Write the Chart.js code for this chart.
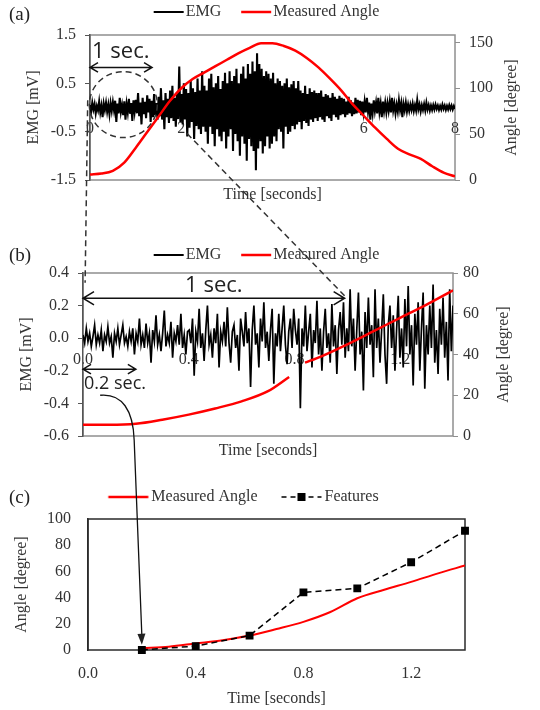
<!DOCTYPE html>
<html>
<head>
<meta charset="utf-8">
<script src="https://cdn.jsdelivr.net/npm/chart.js@4.4.1/dist/chart.umd.min.js"></script>
<style>
  body { margin: 0; background: #fff; }
  #page { position: relative; width: 540px; height: 710px; }
  #page canvas { position: absolute; left: 0; }
</style>
</head>
<body>
<div id="page">
  <canvas id="chartA" width="540" height="204" style="top:0px"></canvas>
  <canvas id="chartB" width="540" height="216" style="top:244px"></canvas>
  <canvas id="chartC" width="540" height="225" style="top:485px"></canvas>
  <canvas id="overlay" width="540" height="710" style="top:0px;pointer-events:none"></canvas>
</div>
<script>
const SERIF = '"Liberation Serif", "Times New Roman", serif';
const SANS = '"Open Sans", "Noto Sans", sans-serif';

// ---- (a) whole movement, 0-8 s ----
const emgADuration = 8;
const emgA = [
  .05,-.08,.1,-.04,.07,-.12,.03,-.06,.12,-.1,.04,-.2,.08,-.05,.1,-.09,.06,-.14,.09,-.07,
  .11,-.06,.14,-.3,.08,-.12,.2,-.09,.05,-.16,.13,-.25,.07,-.1,.18,-.13,.09,-.28,.15,-.08,
  .16,-.12,.3,-.18,.1,-.35,.2,-.14,.12,-.22,.25,-.1,.18,-.3,.14,-.2,.28,-.16,.09,-.25,
  .22,-.18,.4,-.25,.15,-.45,.3,-.2,.18,-.32,.35,-.22,.45,-.28,.2,-.4,.3,-.24,.85,-.3,
  .28,-.35,.5,-.25,.38,-.6,.3,-.42,.55,-.3,.4,-.65,.32,-.38,.6,-.45,.35,-.55,.75,-.4,
  .45,-.5,.35,-.75,.6,-.4,.7,-.55,.42,-.8,.5,-.45,.65,-.6,.38,-.7,.55,-.5,.72,-.85,
  .5,-.6,.75,-.45,.55,-.9,.65,-.55,.8,-.7,.5,-1.0,.7,-.6,.85,-.75,.6,-1.1,.9,-.65,
  .7,-.8,.95,-.9,.75,-1.3,1.12,-.85,.9,-.7,.8,-.95,.65,-.8,.75,-.6,.7,-.85,.6,-.75,
  .72,-.6,.5,-.7,.6,-.45,.55,-.5,.45,-.85,.5,-.4,.6,-.55,.42,-.5,.48,-.38,.55,-.45,
  .4,-.35,.55,-.3,.35,-.45,.3,-.28,.45,-.32,.28,-.38,.4,-.25,.32,-.3,.35,-.22,.3,-.28,
  .3,-.2,.35,-.25,.22,-.3,.28,-.18,.25,-.22,.2,-.28,.3,-.15,.22,-.2,.18,-.25,.24,-.16,
  .2,-.14,.18,-.2,.12,-.15,.22,-.12,.15,-.18,.1,-.14,.2,-.12,.16,-.1,.14,-.16,.12,-.1,
  .12,-.1,.2,-.08,.1,-.25,.08,-.12,.15,-.07,.1,-.12,.2,-.09,.08,-.2,.12,-.08,.1,-.1,
  .09,-.07,.12,-.1,.2,-.06,.08,-.12,.06,-.08,.15,-.05,.09,-.2,.07,-.06,.1,-.08,.06,-.07,
  .06,-.05,.08,-.07,.05,-.06,.15,-.04,.06,-.08,.05,-.05,.07,-.06,.1,-.04,.05,-.06,.04,-.05,
  .05,-.04,.06,-.03,.04,-.05,.03,-.04,.06,-.03,.04,-.05,.03,-.04,.05,-.03,.04,-.04,.03,-.03
];
const angleATime = [0,0.25,0.5,0.75,1,1.25,1.5,1.75,2,2.25,2.5,2.75,3,3.25,3.5,3.75,4,
                    4.25,4.5,4.75,5,5.25,5.5,5.75,6,6.25,6.5,6.75,7,7.25,7.5,7.75,8];
const angleA = [6,7,10,19,35,52,69,86,100,110,117,124,131,138,144,149,149,
                146,141,133,123,111,98,83,70,57,45,34,28,23,15,8,4];
const timeTicksA = [0,2,4,6,8];
const emgTicksA = [-1.5,-0.5,0.5,1.5];
const angleTicksA = [0,50,100,150];

// ---- (b) first 1.4 s ----
const emgBDuration = 1.4;
const emgB = [
  .02,-.03,.06,-.02,.03,-.05,.01,.08,-.04,.02,-.03,.05,-.08,.02,-.02,.07,-.03,.01,-.12,.03,-.02,.06,-.04,.02,.08,-.03,.01,-.05,.04,-.02,.06,-.1,
  .03,-.02,.12,-.04,.02,-.06,.09,-.03,.03,-.15,.05,-.02,.14,-.04,.02,-.08,.03,.17,-.05,.02,-.03,.1,-.12,.03,-.02,.08,-.04,.15,-.06,.02,-.1,.04,
  .05,-.03,.12,-.23,.04,-.02,.18,-.06,.03,-.14,.05,.2,-.04,.02,-.12,.06,-.03,.15,-.18,.04,-.02,.1,-.05,.19,-.03,-.15,.04,.08,-.06,.02,-.2,.12,
  .04,-.05,.16,-.03,.06,-.3,.05,.2,-.04,.03,-.18,.12,-.02,.22,-.06,.04,-.14,.05,.18,-.28,.03,-.05,.15,-.08,.06,.2,-.04,-.16,.04,.12,-.06,.18,
  .05,-.04,.12,-.43,.06,-.05,.2,-.08,.04,.15,-.18,.05,-.03,.23,-.1,.06,-.2,.04,.18,-.06,.03,-.15,.21,-.05,.08,-.22,.05,.16,-.04,.22,-.12,.06,
  -.08,.3,-.05,.12,-.2,.05,.28,-.1,.04,-.32,.16,-.06,.25,-.04,.08,-.24,.3,-.06,.12,-.15,.05,.27,-.1,-.28,.08,.2,-.06,.14,-.2,.05,.26,-.12,
  .06,-.18,.24,-.05,.32,-.1,.08,-.29,.15,-.04,.22,-.2,.06,.28,-.31,.08,-.1,.2,-.06,.33,-.15,.05,-.22,.18,-.04,.25,-.12,.1,-.26,.3,-.08,.2
];
const angleBTime = [0,0.1,0.2,0.3,0.4,0.5,0.6,0.7,0.78,0.8,0.84,0.9,1.0,1.1,1.2,1.3,1.4];
const angleB = [5.5,5.5,6,8,10.5,13.5,17,22,29,null,36,39,45,51.5,58,64.5,71.5];
const timeTicksB = [0,0.4,0.8,1.2];
const emgTicksB = [-0.6,-0.4,-0.2,0,0.2,0.4];
const angleTicksB = [0,20,40,60,80];

// ---- (c) features against the measured angle ----
const featureTime = [0.2,0.4,0.6,0.8,1.0,1.2,1.4];
const featureAngle = [0,3,11,44,47,67,91];
const angleCTime = [0.2,0.3,0.4,0.5,0.6,0.7,0.8,0.9,1.0,1.1,1.2,1.3,1.4];
const angleC = [1.5,2.5,5,7.5,11,16,21.5,29,39.5,46,52,58.5,64.5];
const timeTicksC = [0,0.4,0.8,1.2];
const angleTicksC = [0,20,40,60,80,100];

Chart.defaults.font.family = SERIF;
Chart.defaults.font.size = 16;
Chart.defaults.color = '#333';

const series = (xs, ys) => xs.map((t, i) => ({ x: t, y: ys[i] }));
const sampled = (vals, dur) => vals.map((v, i) => ({ x: i * dur / (vals.length - 1), y: v }));
const setTicks = vals => s => { s.ticks = vals.map(v => ({ value: v })); };

// legend swatch: a short line that stops just before the label text
function makeSwatch(boxW, lineLen, gap, s) {
  const a = boxW + 8 - gap - lineLen, b = boxW + 8 - gap;
  const half = Math.ceil(Math.max(boxW / 2 - a, b - boxW / 2)) + 2;
  const c = document.createElement('canvas');
  c.width = half * 2; c.height = 14;
  const g = c.getContext('2d');
  const x0 = a - (boxW / 2 - half), x1 = b - (boxW / 2 - half);
  g.strokeStyle = s.color; g.lineWidth = s.width;
  g.setLineDash(s.dash || []);
  g.beginPath(); g.moveTo(x0, 7); g.lineTo(x1, 7); g.stroke();
  if (s.marker) { g.fillStyle = s.color; g.fillRect((x0 + x1) / 2 - 4, 3, 8, 8); }
  return c;
}

function legendOpts(boxW, swatches) {
  return {
    position: 'top',
    labels: {
      usePointStyle: true, pointStyleWidth: boxW, padding: 2, color: '#333',
      font: { size: 16 },
      generateLabels: chart => chart.data.datasets.map((ds, i) => ({
        text: ds.label, pointStyle: swatches[i], datasetIndex: i,
        lineWidth: 0, hidden: false, fontColor: '#333'
      }))
    }
  };
}

// empty title used as a gap between legend and plot
const spacer = h => ({ display: h > 0, text: '', weight: 500, padding: 0, font: { size: h, lineHeight: 1 } });

const framePlugin = {
  id: 'frame',
  beforeDraw(chart, args, opts) {
    const { left, top, right, bottom } = chart.chartArea;
    const ctx = chart.ctx;
    ctx.save();
    ctx.strokeStyle = opts.color; ctx.lineWidth = opts.width;
    ctx.strokeRect(left, top, right - left, bottom - top);
    ctx.restore();
  }
};

// right axis title, rotated to read bottom-to-top like the left one
const rightTitlePlugin = {
  id: 'rightTitle',
  afterDraw(chart, args, opts) {
    if (!opts.text) return;
    const s = chart.scales[opts.scale];
    const ctx = chart.ctx;
    ctx.save();
    ctx.font = '16px ' + SERIF; ctx.fillStyle = '#333';
    ctx.textAlign = 'center'; ctx.textBaseline = 'middle';
    ctx.translate(opts.x, (s.top + s.bottom) / 2);
    ctx.rotate(-Math.PI / 2);
    ctx.fillText(opts.text, 0, 0);
    ctx.restore();
  }
};

const baseOpts = { responsive: false, animation: false, devicePixelRatio: 1, events: [] };

const swAB = [
  makeSwatch(42, 30, 2, { color: '#000', width: 2 }),
  makeSwatch(42, 30, 2, { color: '#ff0000', width: 2.5 })
];
const swC = [
  makeSwatch(57, 40, 3, { color: '#ff0000', width: 2.5 }),
  makeSwatch(57, 40, 3, { color: '#000', width: 1.5, dash: [5, 4], marker: true })
];

const chartA = new Chart(document.getElementById('chartA'), {
  type: 'line',
  data: { datasets: [
    { label: 'EMG', data: sampled(emgA, emgADuration), borderColor: '#000', borderWidth: 2.1,
      pointRadius: 0, xAxisID: 'x', yAxisID: 'y', order: 2 },
    { label: 'Measured Angle', data: series(angleATime, angleA), borderColor: '#ff0000', borderWidth: 2.5,
      pointRadius: 0, cubicInterpolationMode: 'monotone', xAxisID: 'x', yAxisID: 'y1', order: 1 }
  ]},
  options: { ...baseOpts,
    layout: { padding: { top: 2, right: 25 } },
    plugins: {
      legend: legendOpts(42, swAB),
      title: spacer(5),
      tooltip: { enabled: false },
      frame: { color: '#8f8f8f', width: 1.5 },
      rightTitle: { text: 'Angle [degree]', scale: 'y1', x: 512 }
    },
    scales: {
      x: { type: 'linear', min: 0, max: 8, position: { y: 0 },
           afterBuildTicks: setTicks(timeTicksA),
           grid: { display: false, drawTicks: false }, border: { display: false },
           ticks: { padding: 12, callback: v => String(v) } },
      xTitle: { type: 'linear', axis: 'x', min: 0, max: 8, position: 'bottom',
           ticks: { display: false }, grid: { display: false }, border: { display: false },
           title: { display: true, text: 'Time [seconds]', padding: 0 },
           afterFit: s => { s.height = 24; } },
      y: { type: 'linear', min: -1.5, max: 1.5, position: 'left',
           afterBuildTicks: setTicks(emgTicksA), afterFit: s => { s.width = 90; },
           grid: { drawOnChartArea: false, tickLength: 5, color: '#555' },
           border: { color: '#555', width: 1.5 },
           ticks: { padding: 9, callback: v => v.toFixed(1) },
           title: { display: true, text: 'EMG [mV]', padding: { top: 24, bottom: 0 } } },
      y1: { type: 'linear', min: 0, max: 158, position: 'right',
           afterBuildTicks: setTicks(angleTicksA), afterFit: s => { s.width = 60; },
           grid: { drawOnChartArea: false, tickLength: 5, color: '#8f8f8f' },
           border: { display: false },
           ticks: { padding: 9 } }
    }
  },
  plugins: [framePlugin, rightTitlePlugin]
});

const chartB = new Chart(document.getElementById('chartB'), {
  type: 'line',
  data: { datasets: [
    { label: 'EMG', data: sampled(emgB, emgBDuration), borderColor: '#000', borderWidth: 1.7,
      pointRadius: 0, xAxisID: 'x', yAxisID: 'y', order: 2 },
    { label: 'Measured Angle', data: series(angleBTime, angleB), borderColor: '#ff0000', borderWidth: 2.5,
      pointRadius: 0, cubicInterpolationMode: 'monotone', xAxisID: 'x', yAxisID: 'y1', order: 1 }
  ]},
  options: { ...baseOpts,
    layout: { padding: { top: 1, right: 25 } },
    plugins: {
      legend: legendOpts(42, swAB),
      title: spacer(0),
      tooltip: { enabled: false },
      frame: { color: '#8f8f8f', width: 1.5 },
      rightTitle: { text: 'Angle [degree]', scale: 'y1', x: 504 }
    },
    scales: {
      x: { type: 'linear', min: 0, max: 1.4, position: { y: 0 }, z: 1,
           afterBuildTicks: setTicks(timeTicksB),
           grid: { display: false, drawTicks: false }, border: { display: false },
           ticks: { padding: 12, callback: v => v.toFixed(1),
                    showLabelBackdrop: true, backdropColor: '#fff', backdropPadding: 2 } },
      xTitle: { type: 'linear', axis: 'x', min: 0, max: 1.4, position: 'bottom',
           ticks: { display: false }, grid: { display: false }, border: { display: false },
           title: { display: true, text: 'Time [seconds]', padding: 0 },
           afterFit: s => { s.height = 24; } },
      y: { type: 'linear', min: -0.6, max: 0.4, position: 'left',
           afterBuildTicks: setTicks(emgTicksB), afterFit: s => { s.width = 83; },
           grid: { drawOnChartArea: false, tickLength: 5, color: '#555' },
           border: { color: '#555', width: 1.5 },
           ticks: { padding: 9, callback: v => v.toFixed(1) },
           title: { display: true, text: 'EMG [mV]', padding: { top: 17, bottom: 0 } } },
      y1: { type: 'linear', min: 0, max: 80, position: 'right',
           afterBuildTicks: setTicks(angleTicksB), afterFit: s => { s.width = 62; },
           grid: { drawOnChartArea: false, tickLength: 5, color: '#8f8f8f' },
           border: { display: false },
           ticks: { padding: 5 } }
    }
  },
  plugins: [framePlugin, rightTitlePlugin]
});

const chartC = new Chart(document.getElementById('chartC'), {
  type: 'line',
  data: { datasets: [
    { label: 'Measured Angle', data: series(angleCTime, angleC), borderColor: '#ff0000', borderWidth: 2,
      pointRadius: 0, cubicInterpolationMode: 'monotone', order: 2 },
    { label: 'Features', data: series(featureTime, featureAngle), borderColor: '#000', borderWidth: 1.5,
      borderDash: [6, 4], pointStyle: 'rect', pointRadius: 4.5, pointBackgroundColor: '#000',
      pointBorderColor: '#000', clip: false, order: 1 }
  ]},
  options: { ...baseOpts,
    layout: { padding: { top: 2, right: 75 } },
    plugins: {
      legend: legendOpts(57, swC),
      title: spacer(4),
      tooltip: { enabled: false },
      frame: { color: '#2a2a2a', width: 1.5 }
    },
    scales: {
      x: { type: 'linear', min: 0, max: 1.4, position: 'bottom',
           afterBuildTicks: setTicks(timeTicksC), afterFit: s => { s.height = 60; },
           grid: { display: false }, border: { display: false },
           ticks: { padding: 6, callback: v => v.toFixed(1) },
           title: { display: true, text: 'Time [seconds]', padding: { top: 0, bottom: 2 } } },
      y: { type: 'linear', min: 0, max: 100, position: 'left',
           afterBuildTicks: setTicks(angleTicksC), afterFit: s => { s.width = 88; },
           grid: { display: false }, border: { color: '#2a2a2a', width: 1.5 },
           ticks: { padding: 9 },
           title: { display: true, text: 'Angle [degree]', padding: { top: 12, bottom: 0 } } }
    }
  },
  plugins: [framePlugin]
});

// ---- annotations spanning the panels ----
const TOP_A = 0, TOP_B = 244, TOP_C = 485;
const ov = document.getElementById('overlay').getContext('2d');

function pt(chart, top, t, v, yId) {
  return { x: chart.scales.x.getPixelForValue(t), y: top + chart.scales[yId || 'y'].getPixelForValue(v) };
}
function doubleArrow(p1, p2, head) {
  ov.beginPath();
  ov.moveTo(p1.x, p1.y); ov.lineTo(p2.x, p1.y);
  ov.moveTo(p1.x + head, p1.y - head * 0.6); ov.lineTo(p1.x, p1.y); ov.lineTo(p1.x + head, p1.y + head * 0.6);
  ov.moveTo(p2.x - head, p1.y - head * 0.6); ov.lineTo(p2.x, p1.y); ov.lineTo(p2.x - head, p1.y + head * 0.6);
  ov.stroke();
}

ov.lineCap = 'butt';
ov.fillStyle = '#222';
ov.textBaseline = 'middle';
ov.font = '19px ' + SERIF;
ov.fillText('(a)', 9, 15);
ov.fillText('(b)', 9, 256);
ov.fillText('(c)', 9, 498);

// (a): one-second span and the ring around the start
ov.strokeStyle = '#111'; ov.lineWidth = 1.5;
const a1 = pt(chartA, TOP_A, 0, 0.83), a2 = pt(chartA, TOP_A, 1.36, 0.83);
doubleArrow(a1, a2, 8);
ov.textBaseline = 'alphabetic';
ov.font = '22px ' + SANS;
ov.fillText('1 sec.', a1.x + 2, a1.y - 9);

const ring = pt(chartA, TOP_A, 0.73, 0.06);
ov.save();
ov.setLineDash([6, 4]); ov.strokeStyle = '#333'; ov.lineWidth = 1.5;
ov.beginPath(); ov.ellipse(ring.x, ring.y, 34, 33, 0, 0, Math.PI * 2); ov.stroke();

// zoom guides from (a) down to (b)
const v1 = pt(chartA, TOP_A, -0.05, 0.15), v2 = pt(chartB, TOP_B, 0.008, 0.34);
ov.beginPath(); ov.moveTo(v1.x, v1.y); ov.lineTo(v2.x, v2.y); ov.stroke();
const d1 = pt(chartA, TOP_A, 2.13, -0.54), d2 = pt(chartB, TOP_B, 0.99, 0.26);
ov.beginPath(); ov.moveTo(d1.x, d1.y); ov.lineTo(d2.x, d2.y); ov.stroke();
ov.restore();

// (b): one-second and 0.2-second spans
const b1 = pt(chartB, TOP_B, 0, 0.245), b2 = pt(chartB, TOP_B, 0.99, 0.245);
doubleArrow(b1, b2, 11);
ov.textAlign = 'center';
ov.fillText('1 sec.', (b1.x + b2.x) / 2, b1.y - 6);
const s1 = pt(chartB, TOP_B, 0, -0.19), s2 = pt(chartB, TOP_B, 0.2, -0.19);
doubleArrow(s1, s2, 8);
ov.textAlign = 'left';
ov.font = '18px ' + SANS;
ov.fillText('0.2 sec.', s1.x + 1, s1.y + 20);

// curved pointer from the 0.2 s mark to the first feature in (c)
const cs = pt(chartB, TOP_B, 0.065, -0.35);
const ce = pt(chartC, TOP_C, 0.2, 4);
const cm = { x: cs.x + 34, y: cs.y + 45 };
ov.lineWidth = 1.3;
ov.beginPath();
ov.moveTo(cs.x, cs.y);
ov.bezierCurveTo(cs.x + 22, cs.y - 2, cs.x + 33, cs.y + 15, cm.x, cm.y);
ov.lineTo(ce.x, ce.y - 9);
ov.stroke();
const ang = Math.atan2(ce.y - cm.y, ce.x - cm.x);
ov.beginPath();
ov.moveTo(ce.x, ce.y);
ov.lineTo(ce.x - 11 * Math.cos(ang) + 4 * Math.sin(ang), ce.y - 11 * Math.sin(ang) - 4 * Math.cos(ang));
ov.lineTo(ce.x - 11 * Math.cos(ang) - 4 * Math.sin(ang), ce.y - 11 * Math.sin(ang) + 4 * Math.cos(ang));
ov.closePath();
ov.fill();
</script>
</body>
</html>
